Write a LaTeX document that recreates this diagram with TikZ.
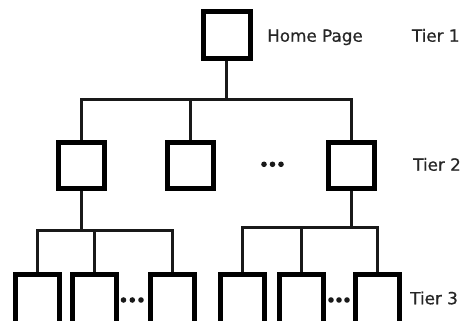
\documentclass[tikz,border=0pt]{standalone}
\usepackage{fontspec}
\setmainfont{DejaVu Sans}
\newfontfamily\lblfont[FakeBold=0.6]{DejaVu Sans}
\begin{document}
\begin{tikzpicture}[x=1pt,y=1pt,
  box/.style={draw=black,fill=white,line width=5pt,inner sep=0pt,minimum width=#1,minimum height=#1},
  leaf/.style={draw=black,fill=white,line width=5pt,inner sep=0pt,minimum width=44pt,minimum height=53.3pt},
  link/.style={line width=3pt,draw=black!90},
  dotc/.style={circle,fill=black!90,inner sep=0pt,minimum size=5.6pt},
  lbl/.style={anchor=base west,inner sep=0pt,text=black!85,font=\lblfont\fontsize{16.8}{20}\selectfont}]
\useasboundingbox (0,0) rectangle (464,-321);
\clip (0,0) rectangle (464,-321);
% junctions
\coordinate (j1) at (226.5,-100);
\coordinate (j2) at (81.5,-230);
\coordinate (j3) at (351.2,-227.5);
% connectors first (drawn under the boxes)
\path (226.5,-35) coordinate (hc) (81.5,-165.5) coordinate (b1c)
      (190.8,-165.5) coordinate (b2c) (351.2,-165.5) coordinate (b3c)
      (37.2,-300.85) coordinate (c1c) (94.5,-300.85) coordinate (c2c)
      (172.7,-300.85) coordinate (c3c) (242.8,-300.85) coordinate (c4c)
      (301,-300.85) coordinate (c5c) (377,-300.85) coordinate (c6c);
\draw[link] (hc) -- (j1);
\draw[link] (b1c) |- (j1) -| (b3c);
\draw[link] (b2c) -- (b2c |- j1);
\draw[link] (b1c) -- (j2);
\draw[link] (c1c) |- (j2) -| (c3c);
\draw[link] (c2c) -- (c2c |- j2);
\draw[link] (b3c) -- (j3);
\draw[link] (c4c) |- (j3) -| (c6c);
\draw[link] (c5c) -- (c5c |- j3);
% tier 1
\node[box=47pt] (h) at (hc) {};
% tier 2
\node[box=46pt] (b1) at (b1c) {};
\node[box=46pt] (b2) at (b2c) {};
\node[box=46pt] (b3) at (b3c) {};
% tier 3
\node[leaf] (c1) at (c1c) {};
\node[leaf] (c2) at (c2c) {};
\node[leaf] (c3) at (c3c) {};
\node[leaf] (c4) at (c4c) {};
\node[leaf] (c5) at (c5c) {};
\node[leaf] (c6) at (c6c) {};
% dots
\node[dotc] (d1) at (264,-164.3) {};
\node[dotc] (d2) at (272.5,-164.3) {};
\node[dotc] (d3) at (281,-164.3) {};
\node[dotc] (e1) at (123.5,-300) {};
\node[dotc] (e2) at (132.3,-300) {};
\node[dotc] (e3) at (141,-300) {};
\node[dotc] (f1) at (331,-300) {};
\node[dotc] (f2) at (339,-300) {};
\node[dotc] (f3) at (347,-300) {};
% labels
\node[lbl] (home) at (267,-41.7) {Home Page};
\node[lbl] (t1) at (411.7,-41.7) {Tier 1};
\node[lbl] (t2) at (413,-170.7) {Tier 2};
\node[lbl] (t3) at (410,-304.3) {Tier 3};
\end{tikzpicture}
\end{document}
